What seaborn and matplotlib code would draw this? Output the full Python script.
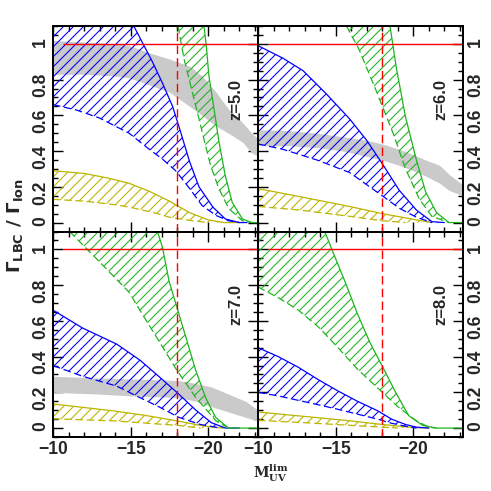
import matplotlib
matplotlib.use("Agg")
import matplotlib.pyplot as plt
import seaborn as sns
from matplotlib.ticker import MultipleLocator, FuncFormatter

# ---- data (x = M_UV limit, y = Gamma_LBC / Gamma_ion) ----
redshift_labels = ["z=5.0", "z=6.0", "z=7.0", "z=8.0"]

# z = 5.0
z5_gray_x = [-10, -12, -14, -14.9, -16.2, -17.5, -18.8, -19.6, -20.5, -21.3, -22.2, -22.8, -23.2]
z5_gray_hi = [1.02, 1.01, 1.0, 0.99, 0.95, 0.915, 0.875, 0.82, 0.73, 0.635, 0.56, 0.50, 0.47]
z5_gray_lo = [0.83, 0.83, 0.82, 0.81, 0.77, 0.73, 0.65, 0.60, 0.54, 0.50, 0.45, 0.39, 0.37]
z5_blue_hi_x = [-15.2, -15.8, -16.4, -17.05, -17.7, -18.1, -18.8, -19.4, -20.3, -21.1, -22.0, -22.5]
z5_blue_hi_y = [1.1, 1.0, 0.9, 0.78, 0.65, 0.54, 0.34, 0.2, 0.086, 0.02, 0.0, 0.0]
z5_blue_lo_x = [-10, -11.5, -13, -14.9, -16.2, -17.05, -17.9, -18.8, -19.6, -20.5, -21.3, -22.0]
z5_blue_lo_y = [0.66, 0.63, 0.585, 0.50, 0.41, 0.355, 0.29, 0.19, 0.095, 0.04, 0.01, 0.0]
z5_green_hi_x = [-19.72, -19.87, -20.04, -20.37, -20.69, -21.1, -21.54, -22.2, -22.8, -23.2]
z5_green_hi_y = [1.1, 0.99, 0.82, 0.635, 0.45, 0.26, 0.113, 0.02, 0.0, 0.0]
z5_green_lo_x = [-18.05, -18.44, -18.87, -19.3, -19.72, -20.15, -20.69, -21.33, -22.2, -22.8]
z5_green_lo_y = [1.1, 0.915, 0.765, 0.616, 0.467, 0.318, 0.188, 0.077, 0.01, 0.0]
z5_yel_hi_x = [-10, -12, -13.5, -14.9, -16.2, -17.5, -18.8, -20.0, -21.0, -22.0]
z5_yel_hi_y = [0.29, 0.275, 0.25, 0.22, 0.175, 0.12, 0.055, 0.015, 0.0, 0.0]
z5_yel_lo_x = [-10, -12, -14, -15, -16.5, -17.5, -19, -20]
z5_yel_lo_y = [0.13, 0.12, 0.10, 0.085, 0.055, 0.03, 0.01, 0.0]

# z = 6.0
z6_gray_x = [-10, -12, -13.8, -15.5, -17, -18, -19.1, -20, -20.8, -21.7, -22.3, -23.2]
z6_gray_hi = [0.52, 0.515, 0.50, 0.48, 0.46, 0.44, 0.41, 0.38, 0.35, 0.32, 0.27, 0.21]
z6_gray_lo = [0.43, 0.43, 0.42, 0.40, 0.37, 0.35, 0.32, 0.29, 0.26, 0.22, 0.18, 0.15]
z6_blue_hi_x = [-10, -11.6, -12.9, -14.4, -15.9, -17.0, -18.0, -19.1, -20.2, -21.2, -22.0]
z6_blue_hi_y = [0.99, 0.92, 0.85, 0.72, 0.58, 0.46, 0.33, 0.18, 0.07, 0.005, 0.0]
z6_blue_lo_x = [-10, -11.6, -13.8, -15.9, -18.0, -19.1, -20.2, -21.2]
z6_blue_lo_y = [0.44, 0.41, 0.35, 0.28, 0.15, 0.08, 0.03, 0.0]
z6_green_hi_x = [-18.5, -18.9, -19.5, -20.2, -20.8, -21.5, -22.3, -23.2]
z6_green_hi_y = [1.1, 0.87, 0.59, 0.35, 0.17, 0.055, 0.0, 0.0]
z6_green_lo_x = [-15.7, -16.5, -17.6, -18.7, -19.5, -20.4, -21.2, -22.3]
z6_green_lo_y = [1.1, 0.97, 0.74, 0.50, 0.30, 0.13, 0.035, 0.0]
z6_yel_hi_x = [-10, -12.7, -15.9, -18, -20.2, -21.2]
z6_yel_hi_y = [0.19, 0.145, 0.09, 0.05, 0.015, 0.0]
z6_yel_lo_x = [-10, -12.7, -15.9, -18, -19.5]
z6_yel_lo_y = [0.09, 0.07, 0.035, 0.01, 0.0]

# z = 7.0
z7_gray_x = [-10, -13, -15, -17, -18.1, -19.2, -20.2, -21.3, -22.4, -23.2]
z7_gray_hi = [0.29, 0.28, 0.275, 0.27, 0.265, 0.25, 0.23, 0.19, 0.15, 0.10]
z7_gray_lo = [0.20, 0.19, 0.18, 0.175, 0.17, 0.15, 0.12, 0.09, 0.06, 0.04]
z7_blue_hi_x = [-10, -11.9, -14.1, -15.6, -16.8, -18.1, -19.2, -20.2, -21.1, -22.0]
z7_blue_hi_y = [0.66, 0.56, 0.47, 0.38, 0.29, 0.19, 0.10, 0.03, 0.0, 0.0]
z7_blue_lo_x = [-10, -11.9, -14.1, -15.6, -16.8, -18.1, -19.5, -20.8]
z7_blue_lo_y = [0.35, 0.29, 0.235, 0.17, 0.12, 0.06, 0.02, 0.0]
z7_green_hi_x = [-16.73, -17.05, -17.48, -18.0, -18.55, -19.2, -19.83, -20.47, -21.3, -22.3, -23.2]
z7_green_hi_y = [1.1, 1.01, 0.82, 0.67, 0.51, 0.32, 0.17, 0.06, 0.0, 0.0, 0.0]
z7_green_lo_x = [-11.07, -13, -14.9, -15.8, -16.8, -18, -19.2, -20.5, -21.3]
z7_green_lo_y = [1.1, 0.93, 0.76, 0.63, 0.49, 0.32, 0.17, 0.04, 0.0]
z7_yel_hi_x = [-10, -12, -14, -16, -18, -19.5, -20.5, -21]
z7_yel_hi_y = [0.135, 0.115, 0.095, 0.07, 0.04, 0.015, 0.003, 0.0]
z7_yel_lo_x = [-10, -14, -18, -19.5]
z7_yel_lo_y = [0.052, 0.04, 0.015, 0.0]

# z = 8.0 (no grey band)
z8_blue_hi_x = [-10, -11.3, -12.6, -13.9, -15.1, -16.4, -17.7, -18.6, -19.5, -20.2, -21.0]
z8_blue_hi_y = [0.45, 0.40, 0.34, 0.27, 0.21, 0.15, 0.097, 0.05, 0.02, 0.005, 0.0]
z8_blue_lo_x = [-10, -11.3, -12.6, -13.9, -15.1, -16.4, -17.7, -18.6, -19.5, -20.2]
z8_blue_lo_y = [0.20, 0.18, 0.155, 0.13, 0.106, 0.078, 0.05, 0.027, 0.01, 0.0]
z8_green_hi_x = [-14.3, -14.8, -15.6, -16.4, -17.2, -18.1, -18.8, -19.7, -20.6, -21.5, -23.2]
z8_green_hi_y = [1.1, 0.99, 0.82, 0.64, 0.48, 0.33, 0.21, 0.07, 0.015, 0.0, 0.0]
z8_green_lo_x = [-10, -11.3, -12.6, -13.9, -15.1, -16.4, -17.7, -19.0, -20.2, -21.0, -21.5]
z8_green_lo_y = [0.79, 0.73, 0.66, 0.565, 0.455, 0.33, 0.225, 0.12, 0.04, 0.005, 0.0]
z8_yel_hi_x = [-10, -13, -16, -18, -20, -21]
z8_yel_hi_y = [0.09, 0.065, 0.04, 0.02, 0.003, 0.0]
z8_yel_lo_x = [-10, -13, -16, -18, -19]
z8_yel_lo_y = [0.043, 0.03, 0.015, 0.005, 0.0]

unity_level = 1.0
unity_start = -10.65
mlim_cut = -18.0

XLIM = (-10, -23.2)
YLIM = (-0.05, 1.1)

BLUE = "#0000ff"
GREEN = "#1fb41f"
YELLOW = "#bcb400"
GRAY = "#cacaca"
RED = "#ff0000"

DPI = 60  # at this dpi the '//' hatch spacing is 10 px, like the reference
sns.set_theme(style="ticks")
plt.rcParams["font.family"] = ["Liberation Sans", "DejaVu Sans"]
plt.rcParams["font.weight"] = "bold"
plt.rcParams["hatch.linewidth"] = 1.3
plt.rcParams["axes.linewidth"] = 2.4


def draw_band(ax, hx, hy, lx, ly, color):
    px = list(hx) + list(lx[::-1])
    py = list(hy) + list(ly[::-1])
    # upper curve leaves through the top: close region along the top edge
    if hy[0] >= YLIM[1] and ly[0] < YLIM[1]:
        px = [lx[0]] + px
        py = [YLIM[1]] + py
    ax.fill(px, py, facecolor="none", edgecolor=color, hatch="//", linewidth=0)
    sns.lineplot(x=hx, y=hy, ax=ax, color=color, lw=1.5, sort=False, estimator=None)
    sns.lineplot(x=lx, y=ly, ax=ax, color=color, lw=1.5, sort=False,
                 estimator=None, linestyle=(0, (6, 3)))


panels = [
    dict(gray=(z5_gray_x, z5_gray_hi, z5_gray_lo),
         bands=[(z5_yel_hi_x, z5_yel_hi_y, z5_yel_lo_x, z5_yel_lo_y, YELLOW),
                (z5_blue_hi_x, z5_blue_hi_y, z5_blue_lo_x, z5_blue_lo_y, BLUE),
                (z5_green_hi_x, z5_green_hi_y, z5_green_lo_x, z5_green_lo_y, GREEN)]),
    dict(gray=(z6_gray_x, z6_gray_hi, z6_gray_lo),
         bands=[(z6_yel_hi_x, z6_yel_hi_y, z6_yel_lo_x, z6_yel_lo_y, YELLOW),
                (z6_blue_hi_x, z6_blue_hi_y, z6_blue_lo_x, z6_blue_lo_y, BLUE),
                (z6_green_hi_x, z6_green_hi_y, z6_green_lo_x, z6_green_lo_y, GREEN)]),
    dict(gray=(z7_gray_x, z7_gray_hi, z7_gray_lo),
         bands=[(z7_yel_hi_x, z7_yel_hi_y, z7_yel_lo_x, z7_yel_lo_y, YELLOW),
                (z7_blue_hi_x, z7_blue_hi_y, z7_blue_lo_x, z7_blue_lo_y, BLUE),
                (z7_green_hi_x, z7_green_hi_y, z7_green_lo_x, z7_green_lo_y, GREEN)]),
    dict(gray=None,
         bands=[(z8_yel_hi_x, z8_yel_hi_y, z8_yel_lo_x, z8_yel_lo_y, YELLOW),
                (z8_blue_hi_x, z8_blue_hi_y, z8_blue_lo_x, z8_blue_lo_y, BLUE),
                (z8_green_hi_x, z8_green_hi_y, z8_green_lo_x, z8_green_lo_y, GREEN)]),
]

fig, axes = plt.subplots(2, 2, figsize=(491 / DPI, 491 / DPI), dpi=DPI)
fig.subplots_adjust(left=53 / 491, right=463 / 491, top=1 - 26 / 491,
                    bottom=1 - 437 / 491, wspace=0, hspace=0)

fmt_x = FuncFormatter(lambda v, _: f"{v:g}".replace("-", "\u2212"))
fmt_y = FuncFormatter(lambda v, _: f"{v:g}")

for i, (ax, p, lab) in enumerate(zip(axes.flat, panels, redshift_labels)):
    if p["gray"] is not None:
        gx, ghi, glo = p["gray"]
        ax.fill_between(gx, glo, ghi, color=GRAY, linewidth=0)
    for hx, hy, lx, ly, c in p["bands"]:
        draw_band(ax, hx, hy, lx, ly, c)
    ax.hlines(unity_level, unity_start, XLIM[1], color=RED, lw=1.7)
    ax.axvline(mlim_cut, color=RED, lw=1.7, linestyle=(0, (6, 3)))
    ax.text(-21.8, 0.69, lab, rotation=90, ha="center", va="center", fontsize=20)

    ax.set_xlim(*XLIM)
    ax.set_ylim(*YLIM)
    ax.set_xlabel("")
    ax.set_ylabel("")
    ax.xaxis.set_major_locator(MultipleLocator(5))
    ax.xaxis.set_minor_locator(MultipleLocator(1))
    ax.yaxis.set_major_locator(MultipleLocator(0.2))
    ax.yaxis.set_minor_locator(MultipleLocator(0.05))
    ax.xaxis.set_major_formatter(fmt_x)
    ax.yaxis.set_major_formatter(fmt_y)
    ax.tick_params(which="both", direction="in", top=True, bottom=True,
                   left=True, right=True, color="black", width=1.7)
    ax.tick_params(which="major", length=12, labelsize=21, pad=5)
    ax.tick_params(which="minor", length=6)
    ax.tick_params(axis="y", labelrotation=90)
    right = i % 2 == 1
    ax.tick_params(axis="y", labelleft=not right, labelright=right)
    ax.tick_params(axis="x", labelbottom=i >= 2)
    for s in ax.spines.values():
        s.set_color("black")
        s.set_linewidth(2.4)

fig.text(15 / 491, 0.54, r"$\Gamma_{\mathbf{LBC}}\ /\ \Gamma_{\mathbf{Ion}}$",
         rotation=90, ha="center", va="center", fontsize=22)
fig.text(253 / 491, 0.035, r"$\mathbf{M}_{\mathbf{UV}}^{\mathbf{lim}}$",
         ha="left", va="center", fontsize=17, math_fontfamily="dejavuserif")

fig.savefig("out.png", dpi=DPI)
